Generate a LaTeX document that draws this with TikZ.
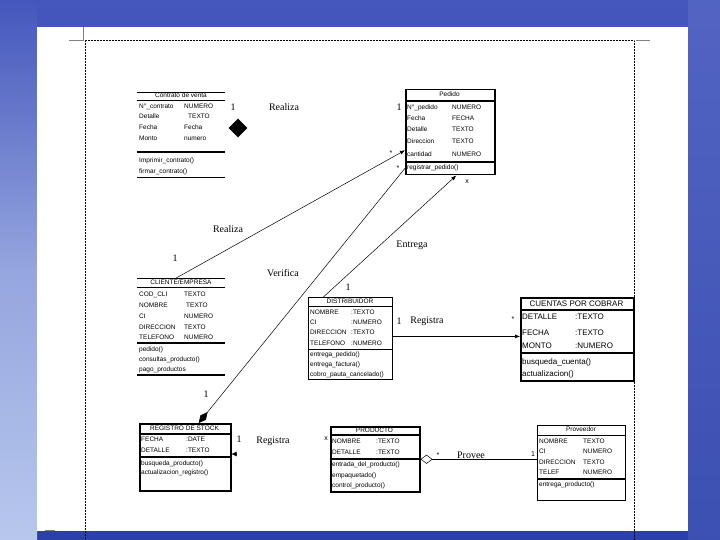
\documentclass[tikz,border=0pt]{standalone}
\usepackage{fontspec}
\setmainfont{Liberation Serif}
\setsansfont{Liberation Sans}
\usetikzlibrary{arrows.meta,shapes.geometric}
\definecolor{skytop}{rgb}{0.27,0.34,0.74}
\definecolor{skybot}{rgb}{0.17,0.25,0.67}
\definecolor{cloud}{rgb}{0.72,0.78,0.93}

\begin{document}
\begin{tikzpicture}[x=1pt,y=-1pt,
  cls/.style={draw,inner sep=0,anchor=north west},
  att/.style={font=\sffamily\fontsize{6.5}{7}\selectfont,anchor=west,inner sep=0,text height=4.8pt,text depth=1.4pt},
  bigatt/.style={font=\sffamily\fontsize{8}{8}\selectfont,anchor=west,inner sep=0,text height=5.8pt,text depth=1.7pt},
  hd/.style={font=\sffamily\fontsize{6.5}{7}\selectfont,inner sep=0,text height=4.8pt,text depth=1.4pt},
  rel/.style={font=\fontsize{10}{10}\selectfont,inner sep=0,text height=6.8pt,text depth=2pt},
  mult/.style={font=\sffamily\fontsize{7}{7}\selectfont,inner sep=0},
  conn/.style={line width=0.5pt}]
\useasboundingbox (0,0) rectangle (720,540);
% background and page
\shade[top color=skytop,bottom color=skybot] (0,0) rectangle (720,540);
\shade[top color=skytop,bottom color=cloud,middle color=cloud!70!skytop] (0,0) rectangle (37,540);
\fill[cloud,opacity=0.12] (688,0) rectangle (720,540);
\fill[white] (37,27) rectangle (688,531);
\draw[densely dotted,line width=0.5pt] (85,540) -- (85,40) -- (634,40) -- (634,540);
\draw[gray,line width=0.6pt] (69,40) -- (83,40) -- (83,27);
\draw[gray,line width=0.6pt] (636,40) -- (650,40);
\draw[gray,line width=0.6pt] (45,530) -- (55,530);

% Contrato de venta
\node[cls,draw=none,minimum width=88pt,minimum height=85pt] (contrato) at (137,92) {};
\draw[line width=0.8pt] (137,92) -- (225,92);
\draw[line width=0.8pt] (137,100) -- (225,100);
\draw[line width=1.8pt] (137,152) -- (225,152);
\draw[line width=0.8pt] (137,177) -- (225,177);
\node[hd] (contratot) at (181,96) {Contrato de venta};
\node[att] (con1n) at (139,107) {N°\_contrato};
\node[att] (con1t) at (184,107) {NUMERO};
\node[att] (con2n) at (139,117) {Detalle};
\node[att] (con2t) at (188,117) {TEXTO};
\node[att] (con3n) at (139,128) {Fecha};
\node[att] (con3t) at (184,128) {Fecha};
\node[att] (con4n) at (139,139) {Monto};
\node[att] (con4t) at (184,139) {numero};
\node[att] (con1m) at (139,161) {Imprimir\_contrato()};
\node[att] (con2m) at (139,172) {firmar\_contrato()};
\node[diamond,fill=black,minimum size=19pt,inner sep=0] (condia) at (238,128) {};
\node[rel] (conm1) at (233,108) {1};
\node[rel] (conrel) at (284,108) {Realiza};

% Pedido
\node[cls,line width=1.5pt,minimum width=89pt,minimum height=85pt] (pedido) at (405,89) {};
\draw[line width=1.3pt] (405,101) -- (494,101);
\draw[line width=1.3pt] (405,162) -- (494,162);
\node[hd] (pedidot) at (449.5,95) {Pedido};
\node[att] (ped1n) at (407,108) {N°\_pedido};
\node[att] (ped1t) at (452,108) {NUMERO};
\node[att] (ped2n) at (407,119) {Fecha};
\node[att] (ped2t) at (452,119) {FECHA};
\node[att] (ped3n) at (407,130) {Detalle};
\node[att] (ped3t) at (452,130) {TEXTO};
\node[att] (ped4n) at (407,142) {Direccion};
\node[att] (ped4t) at (452,142) {TEXTO};
\node[att] (ped5n) at (407,155) {cantidad};
\node[att] (ped5t) at (452,155) {NUMERO};
\node[att] (ped1m) at (407,168) {registrar\_pedido()};
\node[rel] (pedm1) at (399,108) {1};

% CLIENTE/EMPRESA
\node[cls,draw=none,minimum width=88pt,minimum height=97pt] (cliente) at (137,278) {};
\draw[line width=0.8pt] (137,278) -- (225,278);
\draw[line width=0.8pt] (137,287) -- (225,287);
\draw[line width=1.8pt] (137,343) -- (225,343);
\draw[line width=1.8pt] (137,375) -- (225,375);
\node[hd] (clientet) at (181,283) {CLIENTE/EMPRESA};
\node[att] (cli1n) at (139,295) {COD\_CLI};
\node[att] (cli1t) at (184,295) {TEXTO};
\node[att] (cli2n) at (139,306) {NOMBRE};
\node[att] (cli2t) at (186,306) {TEXTO};
\node[att] (cli3n) at (139,317) {CI};
\node[att] (cli3t) at (184,317) {NUMERO};
\node[att] (cli4n) at (139,328) {DIRECCION};
\node[att] (cli4t) at (184,328) {TEXTO};
\node[att] (cli5n) at (139,338) {TELEFONO};
\node[att] (cli5t) at (184,338) {NUMERO};
\node[att] (cli1m) at (139,350) {pedido()};
\node[att] (cli2m) at (139,360) {consultas\_producto()};
\node[att] (cli3m) at (139,370) {pago\_productos};

% DISTRIBUIDOR
\node[cls,line width=0.8pt,minimum width=84pt,minimum height=82pt] (distribuidor) at (308,297) {};
\draw[line width=0.8pt] (308,306) -- (392,306);
\draw[line width=0.8pt] (308,349) -- (392,349);
\node[hd] (distribuidort) at (350,301.5) {DISTRIBUIDOR};
\node[att] (dis1n) at (310,313) {NOMBRE};
\node[att] (dis1t) at (351,313) {:TEXTO};
\node[att] (dis2n) at (310,323) {CI};
\node[att] (dis2t) at (351,323) {:NUMERO};
\node[att] (dis3n) at (310,333) {DIRECCION};
\node[att] (dis3t) at (351,333) {:TEXTO};
\node[att] (dis4n) at (310,344) {TELEFONO};
\node[att] (dis4t) at (351,344) {:NUMERO};
\node[att] (dis1m) at (310,355) {entrega\_pedido()};
\node[att] (dis2m) at (310,365) {entrega\_factura()};
\node[att] (dis3m) at (310,375) {cobro\_pauta\_cancelado()};

% CUENTAS POR COBRAR
\node[cls,line width=1.5pt,minimum width=113pt,minimum height=83pt] (cuenta) at (520,297) {};
\draw[line width=1.5pt] (520,310) -- (633,310);
\draw[line width=1.5pt] (520,353) -- (633,353);
\node[font=\sffamily\fontsize{8}{8}\selectfont,inner sep=0] (cuentat) at (576.5,303.5) {CUENTAS POR COBRAR};
\node[bigatt] (cue1n) at (522,317) {DETALLE};
\node[bigatt] (cue1t) at (575,317) {:TEXTO};
\node[bigatt] (cue2n) at (522,333) {FECHA};
\node[bigatt] (cue2t) at (575,333) {:TEXTO};
\node[bigatt] (cue3n) at (522,346) {MONTO};
\node[bigatt] (cue3t) at (575,346) {:NUMERO};
\node[bigatt] (cue1m) at (522,362) {busqueda\_cuenta()};
\node[bigatt] (cue2m) at (522,374) {actualizacion()};

% REGISTRO DE STOCK
\node[cls,line width=1.5pt,minimum width=91pt,minimum height=67pt] (registro) at (139,423) {};
\draw[line width=1.5pt] (139,434) -- (230,434);
\draw[line width=1.5pt] (139,457) -- (230,457);
\node[hd] (registrot) at (184.5,428.5) {REGISTRO DE STOCK};
\node[att] (reg1n) at (141,440) {FECHA};
\node[att] (reg1t) at (186,440) {:DATE};
\node[att] (reg2n) at (141,451) {DETALLE};
\node[att] (reg2t) at (186,451) {:TEXTO};
\node[att] (reg1m) at (141,464) {busqueda\_producto()};
\node[att] (reg2m) at (141,473) {actualizacion\_registro()};

% PRODUCTO
\node[cls,line width=1.5pt,minimum width=89pt,minimum height=65pt] (producto) at (330,426) {};
\draw[line width=1.5pt] (330,435) -- (419,435);
\draw[line width=1.5pt] (330,459) -- (419,459);
\node[hd] (productot) at (374.5,430.5) {PRODUCTO};
\node[att] (pro1n) at (332,442) {NOMBRE};
\node[att] (pro1t) at (376,442) {:TEXTO};
\node[att] (pro2n) at (332,453) {DETALLE};
\node[att] (pro2t) at (376,453) {:TEXTO};
\node[att] (pro1m) at (332,465) {entrada\_del\_producto()};
\node[att] (pro2m) at (332,476) {empaquetado()};
\node[att] (pro3m) at (332,486) {control\_producto()};

% Proveedor
\node[cls,line width=0.9pt,minimum width=88pt,minimum height=75pt] (proveedor) at (537,425) {};
\draw[line width=0.8pt] (537,435) -- (625,435);
\draw[line width=1.6pt] (537,479) -- (625,479);
\node[hd] (proveedort) at (581,430) {Proveedor};
\node[att] (prv1n) at (539,442) {NOMBRE};
\node[att] (prv1t) at (583,442) {TEXTO};
\node[att] (prv2n) at (539,452) {CI};
\node[att] (prv2t) at (583,452) {NUMERO};
\node[att] (prv3n) at (539,463) {DIRECCION};
\node[att] (prv3t) at (583,463) {TEXTO};
\node[att] (prv4n) at (539,473) {TELEF};
\node[att] (prv4t) at (583,473) {NUMERO};
\node[att] (prv1m) at (539,485) {entrega\_producto()};

% associations
\draw[conn,-{Latex[length=5pt,width=4pt]}] ([xshift=-5pt]cliente.north) -- ([yshift=-18pt]pedido.west);
\draw[conn,{Diamond[length=14pt,width=7pt]}-] ([xshift=13.5pt]registro.north) -- ([yshift=-36pt]pedido.west);
\draw[conn,-{Latex[length=5pt,width=4pt]}] ([xshift=-27pt]distribuidor.north) -- ([xshift=6pt]pedido.south);
\draw[conn,-{Latex[length=5pt,width=4pt]}] ([yshift=2pt]distribuidor.east) -- ([yshift=2pt]distribuidor.east -| cuenta.west);
\draw[conn,{Diamond[open,length=12pt,width=9pt]}-] (producto.east) -- (producto.east -| proveedor.west);
\coordinate (regend) at (236,454);
\draw[conn,-{Latex[length=5pt,width=5pt]}] (regend) -- (regend -| registro.east);

% labels
\node[rel] (clim1) at (175,259) {1};
\node[rel] (clirel) at (228,230) {Realiza};
\node[mult] (pedst1) at (391,153) {*};
\node[mult] (pedst2) at (398,168) {*};
\node[rel] (verrel) at (283,274) {Verifica};
\node[rel] (regm1) at (206,395) {1};
\node[rel] (entrel) at (412,245) {Entrega};
\node[rel] (dism1) at (348,288) {1};
\node[mult] (pedx) at (467,182) {x};
\node[rel] (dism2) at (399,322) {1};
\node[rel] (disrel) at (427,321) {Registra};
\node[mult] (cuest) at (513,319) {*};
\node[rel] (regm2) at (239,440) {1};
\node[rel] (regrel) at (273,441) {Registra};
\node[mult] (prox) at (326,439) {x};
\node[mult] (prost) at (438,455) {*};
\node[rel] (prorel) at (471,456) {Provee};
\node[mult] (prvm1) at (533,454) {1};
\end{tikzpicture}
\end{document}
